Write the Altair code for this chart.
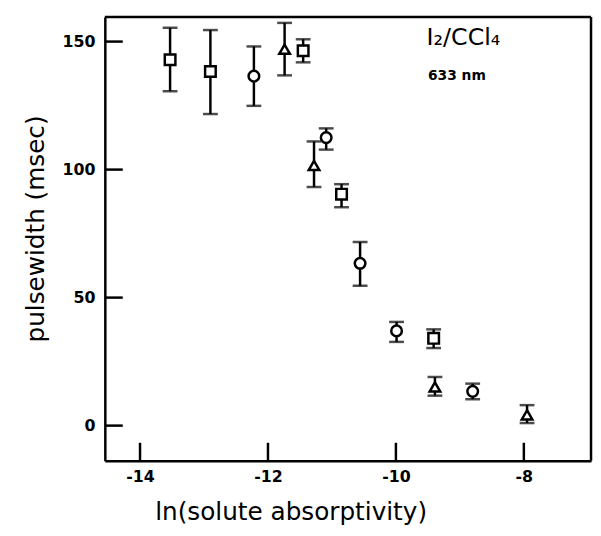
import altair as alt
import pandas as pd

# squares
sq_x = [-13.53, -12.90, -11.45, -10.85, -9.41]
sq_y = [142.9, 138.3, 146.4, 90.4, 34.1]
sq_lo = [130.6, 121.7, 141.9, 85.3, 30.3]
sq_hi = [155.4, 154.5, 150.9, 94.3, 37.6]

# circles
ci_x = [-12.22, -11.09, -10.56, -9.99, -8.80]
ci_y = [136.5, 112.5, 63.4, 37.0, 13.4]
ci_lo = [124.9, 107.8, 54.6, 32.7, 10.3]
ci_hi = [148.1, 116.1, 71.7, 40.5, 16.4]

# triangles
tr_x = [-11.74, -11.28, -9.39, -7.95]
tr_y = [147.0, 101.6, 15.1, 4.2]
tr_lo = [136.8, 93.2, 11.7, 1.0]
tr_hi = [157.3, 111.0, 19.0, 8.0]

x_ticks = [-14, -12, -10, -8]
y_ticks = [0, 50, 100, 150]
x_dom = [-14.55, -6.95]
y_dom = [-13.7, 159.6]

rows = []
for shape, xs, ys, los, his in [("square", sq_x, sq_y, sq_lo, sq_hi),
                                 ("circle", ci_x, ci_y, ci_lo, ci_hi),
                                 ("triangle-up", tr_x, tr_y, tr_lo, tr_hi)]:
    for a, b, c, d in zip(xs, ys, los, his):
        rows.append({"shape": shape, "x": a, "y": b, "lo": c, "hi": d})
df = pd.DataFrame(rows)

xs = alt.Scale(domain=x_dom, nice=False, zero=False)
ys = alt.Scale(domain=y_dom, nice=False, zero=False)
FONT = "DejaVu Sans"

xenc = alt.X("x:Q", scale=xs, axis=alt.Axis(
    values=x_ticks, ticks=False, domain=True, domainColor="black", domainWidth=2.5,
    grid=False, labelPadding=8, format="d",
    labelFontSize=16, labelFontWeight="bold", labelFont=FONT, labelColor="black",
    labelExpr="replace(datum.label, '\u2212', '-')",
    title="ln(solute absorptivity)", titleFont=FONT, titleFontSize=25,
    titleFontWeight="normal", titleColor="black", titleX=188, titleY=52,
    titleBaseline="middle", titleAlign="center"))
yenc = alt.Y("y:Q", scale=ys, axis=alt.Axis(
    values=y_ticks, ticks=False, domain=True, domainColor="black", domainWidth=2.5,
    grid=False, labelPadding=10, format="d",
    labelFontSize=16, labelFontWeight="bold", labelFont=FONT, labelColor="black",
    title="pulsewidth (msec)", titleFont=FONT, titleFontSize=25,
    titleFontWeight="normal", titleColor="black", titleX=-70, titleY=214,
    titleBaseline="middle", titleAlign="center", titleAngle=270))

base = alt.Chart(df)
bars = base.mark_rule(color="black", strokeWidth=2.5).encode(
    x=xenc, y=alt.Y("lo:Q", scale=ys), y2="hi:Q")
cap_lo = base.mark_tick(color="black", orient="horizontal", size=15, thickness=2.5).encode(
    x=alt.X("x:Q", scale=xs), y=alt.Y("lo:Q", scale=ys))
cap_hi = base.mark_tick(color="black", orient="horizontal", size=15, thickness=2.5).encode(
    x=alt.X("x:Q", scale=xs), y=alt.Y("hi:Q", scale=ys))
pts = base.mark_point(filled=False, fill="white", fillOpacity=1, stroke="black",
                      strokeWidth=2.5, opacity=1, size=115).encode(
    x=alt.X("x:Q", scale=xs), y=yenc,
    shape=alt.Shape("shape:N", scale=None, legend=None))

xt = pd.DataFrame({"t": x_ticks, "y0": [y_dom[0]] * 4, "y1": [y_dom[0] + 7] * 4})
yt = pd.DataFrame({"t": y_ticks, "x0": [x_dom[0]] * 4, "x1": [x_dom[0] + 0.28] * 4})
xtick = alt.Chart(xt).mark_rule(color="black", strokeWidth=2.5).encode(
    x=alt.X("t:Q", scale=xs), y=alt.Y("y0:Q", scale=ys), y2="y1:Q")
ytick = alt.Chart(yt).mark_rule(color="black", strokeWidth=2.5).encode(
    y=alt.Y("t:Q", scale=ys), x=alt.X("x0:Q", scale=xs), x2="x1:Q")

# frame (top and right edges of the plot box)
frame_top = alt.Chart(pd.DataFrame({"a": [x_dom[0]], "b": [x_dom[1]], "y": [y_dom[1]]})).mark_rule(
    color="black", strokeWidth=2.5).encode(
    x=alt.X("a:Q", scale=xs), x2="b:Q", y=alt.Y("y:Q", scale=ys))
frame_right = alt.Chart(pd.DataFrame({"a": [y_dom[0]], "b": [y_dom[1]], "x": [x_dom[1]]})).mark_rule(
    color="black", strokeWidth=2.5).encode(
    y=alt.Y("a:Q", scale=ys), y2="b:Q", x=alt.X("x:Q", scale=xs))

ann_label = ["I\u2082/CCl\u2084", "633 nm"]
ann_x = [-9.52, -9.50]
ann_y = [148.8, 135.0]
ann = pd.DataFrame({"label": ann_label, "x": ann_x, "y": ann_y})
ann1 = alt.Chart(ann.iloc[[0]]).mark_text(align="left", baseline="alphabetic",
                                           font=FONT, fontSize=24, color="black").encode(
    x=alt.X("x:Q", scale=xs), y=alt.Y("y:Q", scale=ys), text="label:N")
ann2 = alt.Chart(ann.iloc[[1]]).mark_text(align="left", baseline="alphabetic",
                                           font=FONT, fontSize=14, fontWeight="bold",
                                           color="black").encode(
    x=alt.X("x:Q", scale=xs), y=alt.Y("y:Q", scale=ys), text="label:N")

chart = alt.layer(bars, cap_lo, cap_hi, pts, xtick, ytick, frame_top, frame_right,
                  ann1, ann2).properties(
    width=492, height=449,
    autosize=alt.AutoSizeParams(type="none"),
    padding={"left": 98, "top": 6, "right": 2, "bottom": 65},
).configure_view(strokeWidth=0).configure(background="white")

chart.save("out.html", embed_options={"renderer": "svg", "actions": False})
